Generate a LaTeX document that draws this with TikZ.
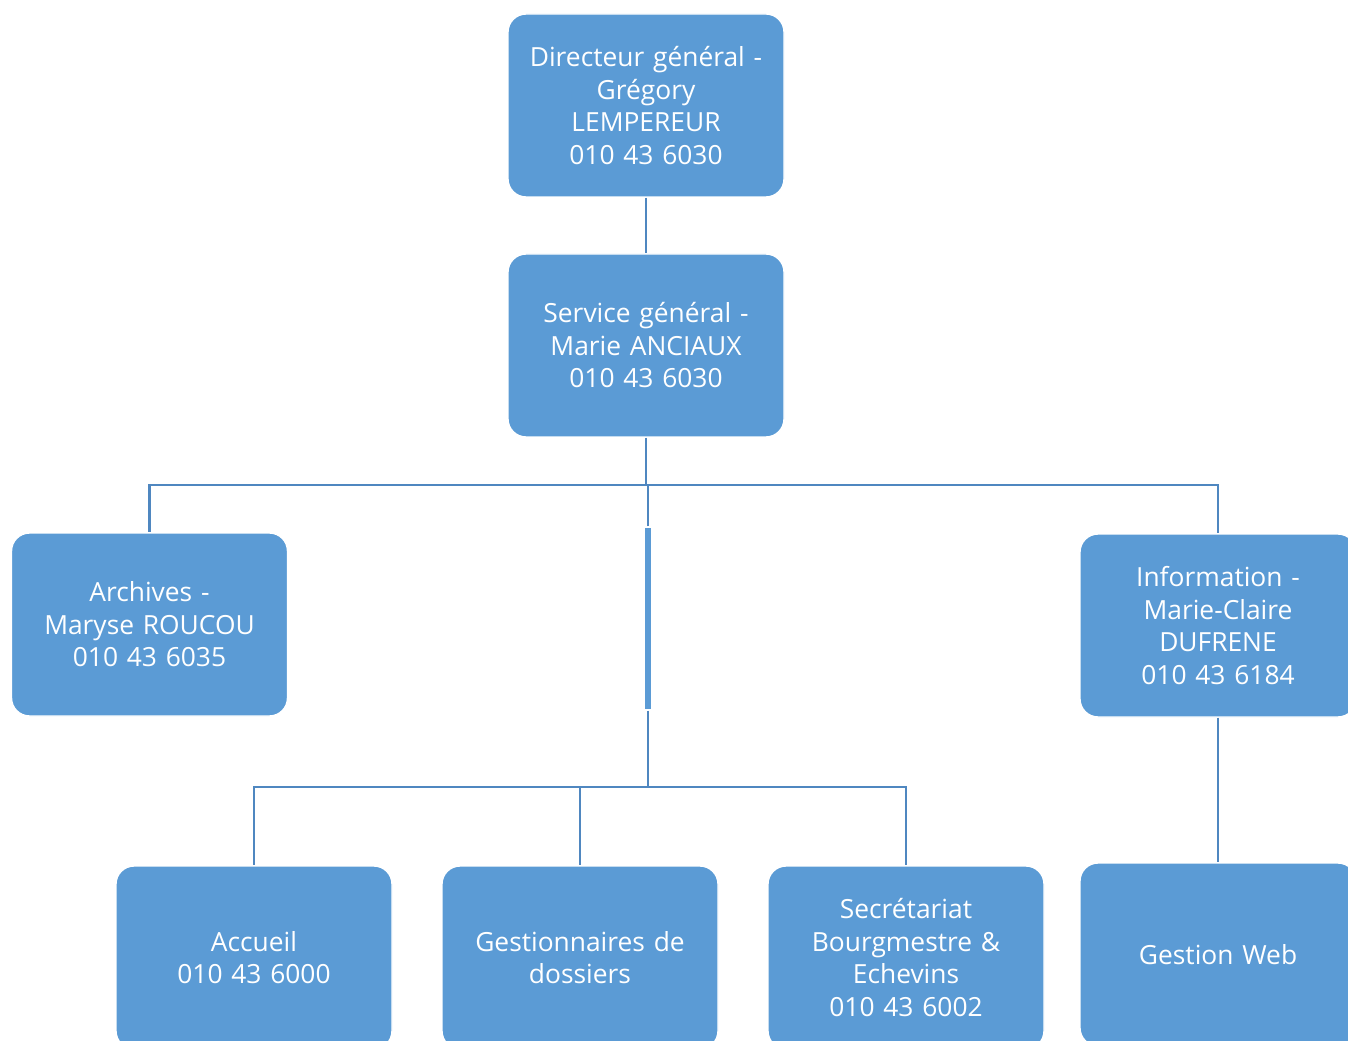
\documentclass[tikz,border=0pt]{standalone}
\usepackage{fontspec}
\setmainfont{Open Sans}
\usetikzlibrary{positioning}
\definecolor{boxblue}{HTML}{5B9BD5}
\definecolor{lineblue}{HTML}{4F87C0}

\begin{document}
\begin{tikzpicture}[
		unit/.style={draw=white,line width=0.8pt,fill=boxblue,rounded corners=0.36cm,minimum width=5.52cm,minimum height=3.66cm,inner sep=0pt,text width=5.3cm,align=center,text=white,font=\fontsize{15}{18.5}\selectfont},
		bar/.style={draw=white,line width=0.6pt,fill=boxblue,minimum width=0.14cm,minimum height=3.66cm,inner sep=0pt},
		link/.style={draw=lineblue,line width=1.3pt}]
		\useasboundingbox (0,0) rectangle (26.96,20.8);
		\node (dir) at (12.92,18.69)[unit]{Directeur général -\\ Grégory\\ LEMPEREUR\\ 010 43 6030} ;
		\node (serv) at (12.92,13.89)[unit]{Service général -\\ Marie ANCIAUX\\ 010 43 6030} ;
		\node (arch) at (2.99,8.31)[unit]{Archives -\\ Maryse ROUCOU\\ 010 43 6035} ;
		\node (info) at (24.36,8.29)[unit]{Information -\\ Marie-Claire\\ DUFRENE\\ 010 43 6184} ;
		\node (mid) at (12.96,8.43)[bar]{} ;
		\node (acc) at (5.08,1.65)[unit]{Accueil\\ 010 43 6000} ;
		\node (gest) at (11.6,1.65)[unit]{Gestionnaires de\\ dossiers} ;
		\node (secr) at (18.12,1.65)[unit]{Secrétariat\\ Bourgmestre \&\\ Echevins\\ 010 43 6002} ;
		\node (web) at (24.36,1.71)[unit]{Gestion Web} ;
		\coordinate (top) at (12.92,11.1) ;
		\coordinate (low) at (12.96,5.06) ;
		\draw[link] (dir) -- (serv) ;
		\draw[link] (serv) -- (top) ;
		\draw[link] (top) -| (arch) ;
		\draw[link] (top) -| (info) ;
		\draw[link] (mid) -- (mid.north |- top) ;
		\draw[link] (mid) -- (low) ;
		\draw[link] (low) -| (acc) ;
		\draw[link] (low) -| (gest) ;
		\draw[link] (low) -| (secr) ;
		\draw[link] (info) -- (web) ;
		\end{tikzpicture}
\end{document}
